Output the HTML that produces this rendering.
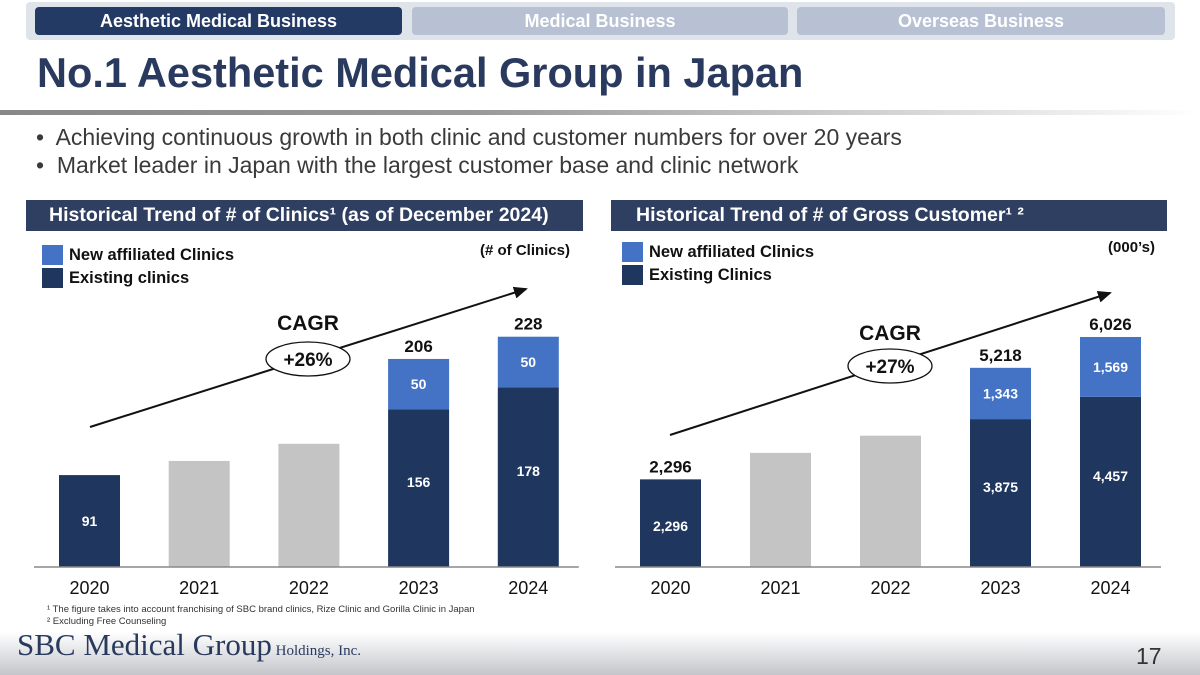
<!DOCTYPE html>
<html><head><meta charset="utf-8"><style>
body{margin:0;width:1200px;height:675px;overflow:hidden;background:#fff;font-family:"Liberation Sans",sans-serif;position:relative}
.abs{position:absolute}
</style></head><body>
<div class="abs" style="left:26px;top:2px;width:1149px;height:38px;background:#dfe3ea;border-radius:4px"></div>
<div class="abs" style="left:35px;top:7px;width:367px;height:28px;background:#233a64;border-radius:4px;color:#fff;font-weight:bold;font-size:18px;text-align:center;line-height:28px">Aesthetic Medical Business</div>
<div class="abs" style="left:412px;top:7px;width:376px;height:28px;background:#b7c1d3;border-radius:4px;color:#fff;font-weight:bold;font-size:18px;text-align:center;line-height:28px">Medical Business</div>
<div class="abs" style="left:797px;top:7px;width:368px;height:28px;background:#b7c1d3;border-radius:4px;color:#fff;font-weight:bold;font-size:18px;text-align:center;line-height:28px">Overseas Business</div>
<div class="abs" style="left:37px;top:49px;font-size:41.5px;font-weight:bold;color:#2a3a5e">No.1 Aesthetic Medical Group in Japan</div>
<div class="abs" style="left:0;top:110px;width:1200px;height:5px;background:linear-gradient(to right,#888 0%,#999 40%,#eee 90%,#fff 100%)"></div>
<div class="abs" style="left:36px;top:123px;font-size:23px;color:#3a3a3a;line-height:28px">
<div>•&nbsp; Achieving continuous growth in both clinic and customer numbers for over 20 years</div>
<div>•&nbsp; Market leader in Japan with the largest customer base and clinic network</div></div>
<div class="abs" style="left:26px;top:200px;width:557px;height:31px;background:#2f3f62;color:#fff;font-weight:bold;font-size:19.5px;line-height:31px;padding-left:23px;box-sizing:border-box;white-space:nowrap">Historical Trend of # of Clinics¹ (as of December 2024)</div>
<div class="abs" style="left:611px;top:200px;width:556px;height:31px;background:#2f3f62;color:#fff;font-weight:bold;font-size:19.5px;line-height:31px;padding-left:25px;box-sizing:border-box;white-space:nowrap">Historical Trend of # of Gross Customer¹ ²</div>
<svg class="abs" style="left:0;top:0" width="1200" height="675" id="chart"></svg>
<div class="abs" style="left:0;top:632px;width:1200px;height:43px;background:linear-gradient(to bottom,#fff,#c4c6cb)"></div>
<div class="abs" style="left:47px;top:604px;font-size:9.5px;color:#333;line-height:12px"><div>¹ The figure takes into account franchising of SBC brand clinics, Rize Clinic and Gorilla Clinic in Japan</div><div>² Excluding Free Counseling</div></div>
<div class="abs" style="left:17px;top:627px;font-family:'Liberation Serif',serif;color:#2a3a5e;white-space:nowrap"><span style="font-size:31px">SBC Medical Group</span><span style="font-size:15px"> Holdings, Inc.</span></div>
<div class="abs" style="left:1136px;top:643px;font-size:23px;color:#333">17</div>
<script>
const years=["2020","2021","2022","2023","2024"];
const clinicsExisting=[91,105,122,156,178];
const clinicsNew=[0,0,0,50,50];
const clinicsTotalLabels=["","","","206","228"];
const custExisting=[2296,2990,3440,3875,4457];
const custNew=[0,0,0,1343,1569];
const custTotalLabels=["2,296","","","5,218","6,026"];
const custExistingLabels=["2,296","","","3,875","4,457"];
const custNewLabels=["","","","1,343","1,569"];
const svg=document.getElementById('chart');
const NS='http://www.w3.org/2000/svg';
function el(t,a,txt){const e=document.createElementNS(NS,t);for(const k in a)e.setAttribute(k,a[k]);if(txt!=null)e.textContent=txt;svg.appendChild(e);return e;}
const base=567;
const w0=61;
function drawChart(x0,step,scale,ex,nw,exL,nwL,totL,pre){
 const labelled=[0,3,4];
 for(let i=0;i<years.length;i++){
  const x=x0+i*step,w=61;
  const hE=ex[i]*scale,hN=nw[i]*scale;
  const grey=!labelled.includes(i);
  let r=el('rect',{x:x,y:base-hE,width:w,height:hE,fill:grey?'#c4c4c4':'#1f365f'});
  
  
  if(hN>0){r=el('rect',{x:x,y:base-hE-hN,width:w,height:hN,fill:'#4472c4'});
   
   
   el('text',{x:x+w/2,y:base-hE-hN/2+5,'text-anchor':'middle',fill:'#fff','font-size':14,'font-weight':'bold'},nwL[i]);}
  if(exL[i]){const yy=(i==0&&pre=='clinics')?base-hE/2+5:(i==0?base-hE/2+8:base-hE/2-1);
   el('text',{x:x+w/2,y:yy,'text-anchor':'middle',fill:'#fff','font-size':14,'font-weight':'bold'},exL[i]);}
  if(totL[i])el('text',{x:x+w/2,y:base-hE-hN-7,'text-anchor':'middle',fill:'#111','font-size':17,'font-weight':'bold'},totL[i]);
  const t=el('text',{x:x+w/2,y:594,'text-anchor':'middle',fill:'#111','font-size':18},years[i]);
  
  
 }
 el('line',{x1:x0-25,y1:base,x2:x0+4*step+w0+20,y2:base,stroke:'#888','stroke-width':1.5});
}
const cExL=clinicsExisting.map((v,i)=>[0,3,4].includes(i)?String(v):"");
const cNwL=clinicsNew.map(v=>v?String(v):"");
drawChart(59,109.7,1.01,clinicsExisting,clinicsNew,cExL,cNwL,clinicsTotalLabels,'clinics');
drawChart(640,110,0.03817,custExisting,custNew,custExistingLabels,custNewLabels,custTotalLabels,'customers');
el('defs',{}).innerHTML='<marker id="ah" markerWidth="8" markerHeight="8" refX="6" refY="4" orient="auto"><path d="M0,1 L7,4 L0,7 z" fill="#111"/></marker>';
el('line',{x1:90,y1:427,x2:526,y2:289,stroke:'#111','stroke-width':2,'marker-end':'url(#ah)'});
el('line',{x1:670,y1:435,x2:1110,y2:293,stroke:'#111','stroke-width':2,'marker-end':'url(#ah)'});
el('ellipse',{cx:308,cy:359,rx:42,ry:17,fill:'#fff',stroke:'#111','stroke-width':1.3});
el('text',{x:308,y:366,'text-anchor':'middle','font-size':19,'font-weight':'bold',fill:'#111'},'+26%');
el('text',{x:308,y:330,'text-anchor':'middle','font-size':21,'font-weight':'bold',fill:'#111'},'CAGR');
el('ellipse',{cx:890,cy:366,rx:42,ry:17,fill:'#fff',stroke:'#111','stroke-width':1.3});
el('text',{x:890,y:373,'text-anchor':'middle','font-size':19,'font-weight':'bold',fill:'#111'},'+27%');
el('text',{x:890,y:340,'text-anchor':'middle','font-size':21,'font-weight':'bold',fill:'#111'},'CAGR');
function legend(x,y,c,t,n){const r=el('rect',{x:x,y:y,width:21,height:20,fill:c});el('text',{x:x+27,y:y+15,'font-size':16.5,'font-weight':'bold',fill:'#111'},t);}
legend(42,245,'#4472c4','New affiliated Clinics','clinics-legend-new');
legend(42,268,'#1f365f','Existing clinics','clinics-legend-existing');
legend(622,242,'#4472c4','New affiliated Clinics','customers-legend-new');
legend(622,265,'#1f365f','Existing Clinics','customers-legend-existing');
el('text',{x:570,y:255,'text-anchor':'end','font-size':15,'font-weight':'bold',fill:'#111'},'(# of Clinics)');
el('text',{x:1155,y:252,'text-anchor':'end','font-size':15,'font-weight':'bold',fill:'#111'},'(000’s)');
</script>
</body></html>
